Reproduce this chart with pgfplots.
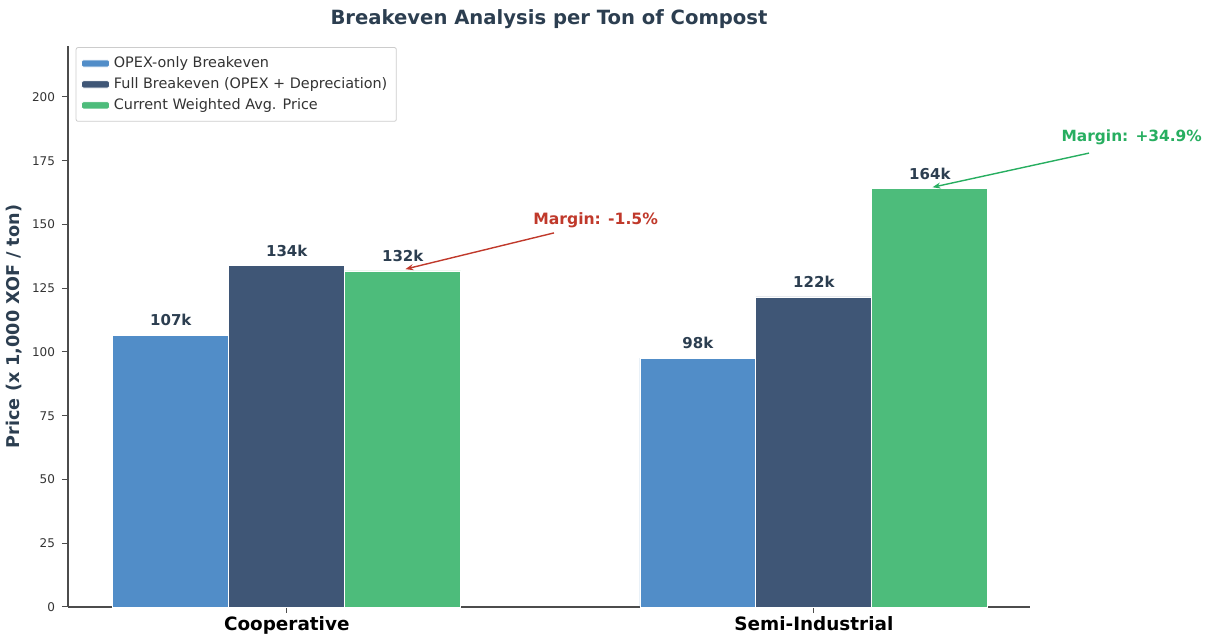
\documentclass[border=0pt]{standalone}
\usepackage{pgfplots}
\pgfplotsset{compat=1.18}
\usepackage{fontspec}
\setmainfont{DejaVu Sans}
\usetikzlibrary{arrows.meta}
\definecolor{cblue}{HTML}{518DC8}
\definecolor{cdark}{HTML}{3F5676}
\definecolor{cgreen}{HTML}{4DBC7B}
\definecolor{ctitle}{HTML}{2C3E50}
\definecolor{cred}{HTML}{C0392B}
\definecolor{cgrn}{HTML}{27AE60}
\begin{document}
\begin{tikzpicture}
\useasboundingbox (-34pt,-14.5pt) rectangle (571.5pt,303.5pt);
\begin{axis}[
  scale only axis,
  width=481pt, height=280.5pt,
  ybar=0pt, bar width=0.22,
  xmin=-0.415, xmax=1.41,
  ymin=0, ymax=220,
  xtick={0,1}, xticklabels={Cooperative,Semi-Industrial},
  xticklabel style={font=\fontsize{9.2}{10}\selectfont\bfseries, color=black, yshift=2pt},
  ytick={0,25,...,200},
  yticklabel style={font=\fontsize{6}{7}\selectfont, color=black!80},
  /pgf/number format/assume math mode=true,
  axis x line*=bottom, axis y line*=left,
  axis line style={black!70, line width=0.6pt},
  tick style={black!70, line width=0.5pt},
  tick align=outside, major tick length=3pt,
  ylabel={Price (x 1,000 XOF / ton)},
  ylabel style={font=\fontsize{8.8}{10}\selectfont\bfseries, color=ctitle, yshift=-2pt},
  title={Breakeven Analysis per Ton of Compost},
  title style={font=\fontsize{9.8}{11}\selectfont\bfseries, color=ctitle, yshift=-1pt},
  legend style={at={(0.008,0.998)}, anchor=north west, font=\fontsize{7.2}{8}\selectfont,
    draw=black!20, rounded corners=1pt, inner sep=2.5pt, row sep=-0.5pt, text=black!80},
  legend cell align=left,
  legend image code/.code={\fill[#1] (0pt,-1.8pt) rectangle (14pt,1.8pt);},
  nodes near coords={\pgfmathprintnumber[fixed,precision=0]{\pgfplotspointmeta}k},
  every node near coord/.append style={font=\fontsize{7.5}{8}\selectfont\bfseries, color=ctitle, anchor=south, yshift=1pt},
  clip=false,
]
\addplot[fill=cblue, draw=white, line width=0.4pt] coordinates {(0,106.6) (1,97.6)};
\addplot[fill=cdark, draw=white, line width=0.4pt] coordinates {(0,133.8) (1,121.6)};
\addplot[fill=cgreen, draw=white, line width=0.4pt] coordinates {(0,131.8) (1,164)};
\legend{OPEX-only Breakeven, Full Breakeven (OPEX + Depreciation), Current Weighted Avg. Price}
\draw[-{Stealth[length=4pt,width=3pt]}, cred, line width=0.7pt] (axis cs:0.507,146.7) -- (axis cs:0.225,132.5);
\node[font=\fontsize{7.8}{9}\selectfont\bfseries, text=cred] at (axis cs:0.586,151.8) {Margin: -1.5\%};
\draw[-{Stealth[length=4pt,width=3pt]}, cgrn, line width=0.7pt] (axis cs:1.522,178) -- (axis cs:1.225,164.6);
\node[font=\fontsize{7.7}{9}\selectfont\bfseries, text=cgrn] at (axis cs:1.603,184) {Margin: +34.9\%};
\end{axis}
\end{tikzpicture}
\end{document}
